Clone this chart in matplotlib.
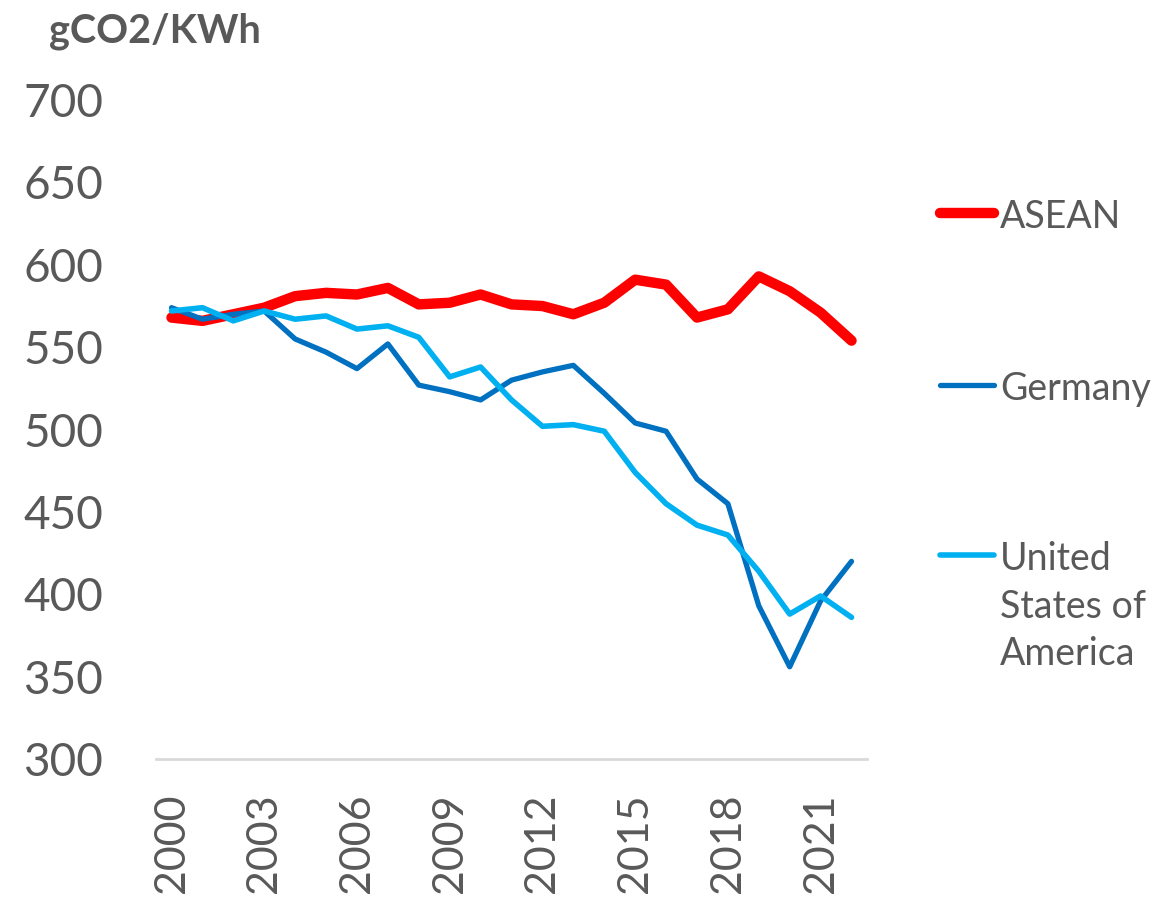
import matplotlib.pyplot as plt
from matplotlib.lines import Line2D

# data
years = list(range(2000, 2023))
asean = [568, 566, 570, 574, 581, 583, 582, 586, 576, 577, 582, 576, 575, 570,
         577, 591, 588, 568, 573, 593, 584, 571, 554]
germany = [574, 567, 570, 572, 555, 547, 537, 552, 527, 523, 518, 530, 535, 539,
           522, 504, 499, 470, 455, 393, 356, 396, 420]
usa = [572, 574, 566, 572, 567, 569, 561, 563, 556, 532, 538, 518, 502, 503,
       499, 474, 455, 442, 436, 414, 388, 399, 386]

series_names = ["ASEAN", "Germany", "United\nStates of\nAmerica"]
series_colors = ["#FF0000", "#0070C0", "#00B0F0"]
series_widths = [7.5, 3.8, 4.0]
tick_years = list(range(2000, 2022, 3))

grey = "#595959"
plt.rcParams['font.family'] = ['Lato', 'DejaVu Sans']

fig = plt.figure(figsize=(11.62, 9.02), dpi=100)
ax = fig.add_axes([0.1343, 0.1585, 0.6118, 0.7305])

x = list(range(len(years)))
for vals, c, lw in zip([asean, germany, usa], series_colors, series_widths):
    ax.plot(x, vals, color=c, linewidth=lw, solid_capstyle='round',
            solid_joinstyle='round')

ax.set_xlim(-0.5, len(years) - 0.5)
ax.set_ylim(300, 700)
ax.set_yticks(range(300, 701, 50))
ax.set_xticks([years.index(y) for y in tick_years])
ax.set_xticklabels([str(y) for y in tick_years], rotation=90)

for side in ['top', 'right', 'left']:
    ax.spines[side].set_visible(False)
ax.spines['bottom'].set_color('#D9D9D9')
ax.spines['bottom'].set_linewidth(2)
ax.tick_params(axis='both', length=0, labelcolor=grey)
ax.tick_params(axis='y', labelsize=33, pad=38)
ax.tick_params(axis='x', labelsize=31, pad=25)

# unit title
fig.text(49 / 1162, 1 - 42 / 902, "gCO2/KWh", fontsize=28.5, fontweight='bold',
         color=grey, va='baseline', ha='left')

# legend drawn by hand so the handle sits on the first text line
legend_y = [213, 385, 555]
for name, c, lw, py in zip(series_names, series_colors, series_widths, legend_y):
    yy = 1 - py / 902
    fig.add_artist(Line2D([940 / 1162, 994 / 1162], [yy, yy], color=c,
                          linewidth=lw, solid_capstyle='round',
                          transform=fig.transFigure))
    fig.text(1000 / 1162, yy + 13.5 / 902, name, fontsize=27, color=grey,
             ha='left', va='top', linespacing=1.39)

plt.savefig('out.png', dpi=100)
plt.close(fig)
